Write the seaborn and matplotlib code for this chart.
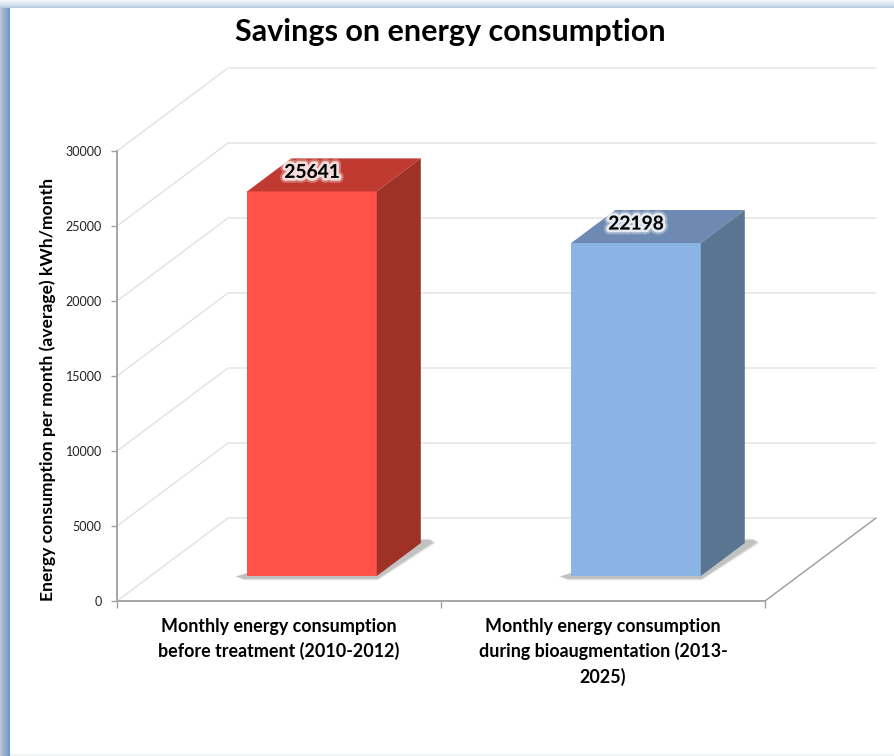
import matplotlib
matplotlib.use("Agg")
import matplotlib.pyplot as plt
import matplotlib.patheffects as pe
from matplotlib.patches import Polygon, Rectangle
import pandas as pd
import seaborn as sns

categories = ["Monthly energy consumption\nbefore treatment (2010-2012)",
              "Monthly energy consumption\nduring bioaugmentation (2013-\n2025)"]
values = [25641, 22198]
front_colors = ["#FF5147", "#8AB4E3"]
top_colors = ["#C03A31", "#6E8AB3"]
side_colors = ["#9E3226", "#5A7592"]
y_ticks = [0, 5000, 10000, 15000, 20000, 25000, 30000]
title = "Savings on energy consumption"
ylabel = "Energy consumption per month (average) kWh/month"

FONT = "Lato"
W, H = 894, 756
sns.set_theme(style="white")
plt.rcParams["font.family"] = [FONT, "DejaVu Sans"]
fig = plt.figure(figsize=(W / 100, H / 100), dpi=100, facecolor="white")


def rect(x0, ytop, x1, ybot):
    return [x0 / W, 1 - ybot / H, (x1 - x0) / W, (ybot - ytop) / H]


# window frame around the card
frame = fig.add_axes([0, 0, 1, 1], zorder=0)
frame.set_xlim(0, W)
frame.set_ylim(H, 0)
frame.axis("off")
for i, c in enumerate(["#f4f7fb", "#eef3f9", "#e6edf6", "#dfe8f3", "#d8e3f1", "#cfdded", "#c3d5ea", "#b4cbe6"]):
    frame.add_patch(Rectangle((0, i), W, 1, fc=c, ec="none"))
for i, c in enumerate(["#b9c6d6", "#b0bfd2", "#a8b9cf", "#a0b3cc", "#98aec9", "#90a8c6", "#88a3c5", "#7fa0cc"]):
    frame.add_patch(Rectangle((i, 8), 1, H - 8, fc=c, ec="none"))
frame.add_patch(Rectangle((8, 8), 2, H - 8, fc="#6d9ad3", ec="none"))
frame.add_patch(Rectangle((10, 754), W - 10, 2, fc="#f0f3f7", ec="none"))

# axis plane (front edge of the floor)
ax = fig.add_axes(rect(117, 151, 765, 601), zorder=1)
ax.patch.set_alpha(0)
ax.set_xlim(-0.5, 1.5)
ax.set_ylim(0, 30000)
PX = 2 / 648          # one pixel in category units
PY = 30000 / 450      # one pixel in value units
wall_dx, wall_dy = 111 * PX, 83 * PY

for t in y_ticks:
    ax.plot([-0.5, -0.5 + wall_dx, 1.5 + wall_dx],
            [t, t + wall_dy, t + wall_dy], color="#e2e2e2", lw=1.0,
            clip_on=False, zorder=1, solid_joinstyle="miter")
ax.plot([1.5, 1.5 + wall_dx], [0, wall_dy], color="#9a9a9a", lw=1.0, clip_on=False, zorder=1)

ax.set_yticks(y_ticks)
ax.set_yticklabels([str(t) for t in y_ticks], fontsize=9, color="#222222")
ax.set_xticks([-0.5, 0.5, 1.5])
ax.set_xticklabels([])
ax.set_xticks([0, 1], minor=True)
ax.set_xticklabels(categories, minor=True, fontsize=12.9, fontweight="bold", color="black", linespacing=1.5)
ax.tick_params(axis="x", which="major", length=5, width=1, color="#a0a0a0", bottom=True)
ax.tick_params(axis="x", which="minor", length=0, pad=12, bottom=False)
ax.tick_params(axis="y", length=4, width=1, color="#a0a0a0", left=True, pad=7)
for s in ["top", "right"]:
    ax.spines[s].set_visible(False)
for s in ["left", "bottom"]:
    ax.spines[s].set_color("#a6a6a6")
    ax.spines[s].set_linewidth(1.4)
ax.set_ylabel(ylabel, fontsize=12.6, fontweight="bold", color="black", va="center")
ax.yaxis.set_label_coords((48 - 117) / 648, (601 - 389) / 450)

# bars stand on a plane set back into the floor
ax_bar = fig.add_axes(rect(150, 126, 798, 576), zorder=2)
ax_bar.patch.set_alpha(0)
df = pd.DataFrame({"category": categories, "value": values})
sns.barplot(data=df, x="category", y="value", hue="category", palette=front_colors,
            width=0.4, dodge=False, legend=False, ax=ax_bar, saturation=1, zorder=3, linewidth=0)
ax_bar.set_xlim(-0.5, 1.5)
ax_bar.set_ylim(0, 30000)
ax_bar.axis("off")

half = 0.2
bar_dx, bar_dy = 44 * PX, 33 * PY
for i, v in enumerate(values):
    l, r = i - half, i + half
    # soft floor shadow
    for g, a in [(1.5, 0.08), (0.8, 0.12), (0.0, 0.2)]:
        ax_bar.add_patch(Polygon(
            [(l - (11 + g) * PX, -0.5 * PY), (l - 3 * PX, -(3 + g) * PY), (r + 1 * PX, -(3 + g) * PY),
             (r + bar_dx + (13 + g) * PX, bar_dy + (1 - g) * PY), (r + bar_dx + 9 * PX, bar_dy + (3 + g) * PY),
             (r + bar_dx, bar_dy + (3 + g) * PY), (r, 0), (l, 3 * PY)],
            closed=True, fc="#555555", ec="none", alpha=a, zorder=2, clip_on=False))
    ax_bar.add_patch(Polygon([(l, v), (r, v), (r + bar_dx, v + bar_dy), (l + bar_dx, v + bar_dy)],
                             closed=True, fc=top_colors[i], ec="none", zorder=4, clip_on=False))
    ax_bar.add_patch(Polygon([(r, 0), (r + bar_dx, bar_dy), (r + bar_dx, v + bar_dy), (r, v)],
                             closed=True, fc=side_colors[i], ec="none", zorder=4, clip_on=False))
    label = ax_bar.annotate(str(v), (i, v), xytext=(0, 19 * 0.72), textcoords="offset points",
                            ha="center", va="center", fontsize=13.8, fontweight="bold", color="black", zorder=6,
                            annotation_clip=False)
    label.set_path_effects([pe.withStroke(linewidth=7, foreground="white", alpha=0.3),
                            pe.withStroke(linewidth=4, foreground="white", alpha=0.75)])

fig.text(450 / W, 1 - 32 / H, title, ha="center", va="center", fontsize=22,
         fontweight="bold", color="black", zorder=5)
fig.savefig("out.png", dpi=100)
